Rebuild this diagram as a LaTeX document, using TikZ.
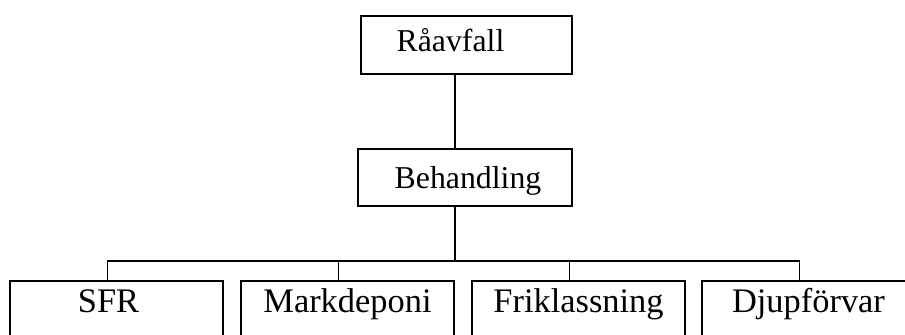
\documentclass[tikz,border=0pt]{standalone}
\usepackage{fontspec}
\setmainfont{Liberation Serif}
\usetikzlibrary{positioning}

\tikzset{
  box/.style={draw, rectangle, line width=0.8pt, inner xsep=0pt, inner ysep=0pt,
    minimum width=106.5pt, anchor=north, font=\fontsize{15.9}{19}\selectfont},
  leaf/.style={box, text height=16pt, text depth=16pt, font=\fontsize{17.2}{20}\selectfont},
}

\begin{document}
\begin{tikzpicture}[x=1pt, y=1pt, line width=0.8pt]
    \useasboundingbox (0,0) rectangle (452.5,167);
    \node (r) at (233.25,159.5) [box, minimum width=105.5pt, text height=18pt, text depth=11pt] {Råavfall\hspace*{16pt}};
    \node (b) at (232.5,93) [box, minimum width=107pt, text height=20pt, text depth=8.5pt] {\hspace*{3pt}Behandling};
    \node (s) at (58.25,27) [leaf] {SFR\hspace*{8pt}};
    \node (m) at (173.75,27) [leaf] {Markdeponi};
    \node (f) at (289.25,27) [leaf] {Friklassning};
    \node (d) at (404.25,27) [leaf] {Djupförvar};
    \coordinate (t) at (227.5,36.5); % junction under b
    \draw ([xshift=-5pt]b.south) |- (t);
    \draw ([xshift=-5pt]b.north) -- ([xshift=-5pt]b.north |- r.south);
    \draw ([xshift=-4.5pt]s.north) |- (t) -| ([xshift=-4.5pt]d.north);
    \draw ([xshift=-4.5pt]m.north) |- (t);
    \draw ([xshift=-4.5pt]f.north) |- (t);
\end{tikzpicture}
\end{document}
